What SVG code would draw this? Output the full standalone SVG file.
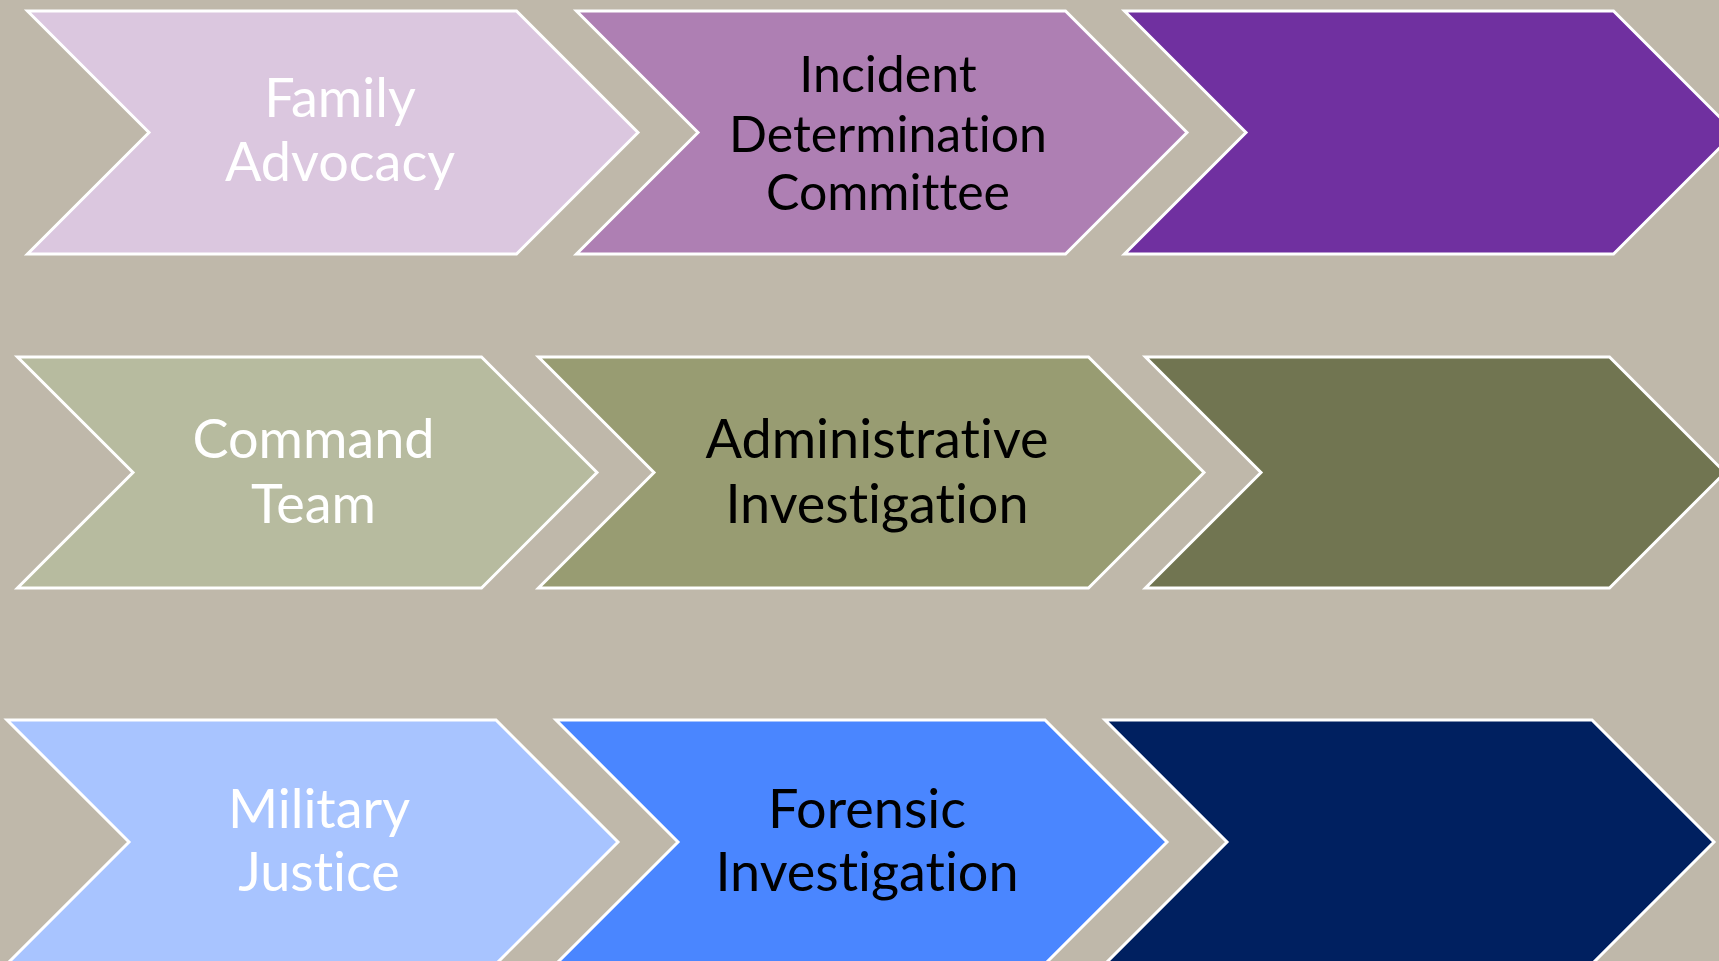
<svg xmlns="http://www.w3.org/2000/svg" width="1719" height="961" viewBox="0 0 1719 961">
<style>
.ch{stroke:#FFFFFF;stroke-width:3;stroke-linejoin:miter}
.t{font-family:Lato,"Liberation Sans",sans-serif;text-anchor:middle;font-variant-ligatures:none;font-feature-settings:"liga" 0,"clig" 0}
.w{fill:#FFFFFF}
.k{fill:#000000}
.big{font-size:54px}
.mid{font-size:50px}
</style>
<rect x="0" y="0" width="1719" height="961" fill="#BFB8AA"/>
<g id="row1">
<g id="family-advocacy">
<polygon class="ch" fill="#DBC7DF" points="27.5,11 516.5,11 638,132.5 516.5,254 27.5,254 149,132.5"/>
<text class="t w big" x="340" y="117">Family</text>
<text class="t w big" x="340" y="181">Advocacy</text>
</g>
<g id="incident-determination-committee">
<polygon class="ch" fill="#AE7FB3" points="576.5,11 1065.5,11 1187,132.5 1065.5,254 576.5,254 698,132.5"/>
<text class="t k mid" x="888" y="92">Incident</text>
<text class="t k mid" x="888" y="152">Determination</text>
<text class="t k mid" x="888" y="210">Committee</text>
</g>
<g id="purple-step">
<polygon class="ch" fill="#7030A0" points="1124.5,11 1613.5,11 1735,132.5 1613.5,254 1124.5,254 1246,132.5"/>
</g>
</g>
<g id="row2">
<g id="command-team">
<polygon class="ch" fill="#B7BB9F" points="17.5,357 481.5,357 597,472.5 481.5,588 17.5,588 133,472.5"/>
<text class="t w big" x="313.5" y="458">Command</text>
<text class="t w big" x="313.5" y="523">Team</text>
</g>
<g id="administrative-investigation">
<polygon class="ch" fill="#989C72" points="538.5,357 1088.5,357 1204,472.5 1088.5,588 538.5,588 654,472.5"/>
<text class="t k big" x="877" y="458">Administrative</text>
<text class="t k big" x="877" y="523">Investigation</text>
</g>
<g id="olive-step">
<polygon class="ch" fill="#717551" points="1145.5,357 1609.5,357 1725,472.5 1609.5,588 1145.5,588 1261,472.5"/>
</g>
</g>
<g id="row3">
<g id="military-justice">
<polygon class="ch" fill="#A8C4FF" points="7,720 496,720 618,842 496,964 7,964 129,842"/>
<text class="t w big" x="319" y="828">Military</text>
<text class="t w big" x="319" y="891">Justice</text>
</g>
<g id="forensic-investigation">
<polygon class="ch" fill="#4A86FF" points="556,720 1045,720 1167,842 1045,964 556,964 678,842"/>
<text class="t k big" x="867" y="828">Forensic</text>
<text class="t k big" x="867" y="891">Investigation</text>
</g>
<g id="navy-step">
<polygon class="ch" fill="#002060" points="1105,720 1592,720 1714,842 1592,964 1105,964 1227,842"/>
</g>
</g>
<g id="connectors"></g>
</svg>
